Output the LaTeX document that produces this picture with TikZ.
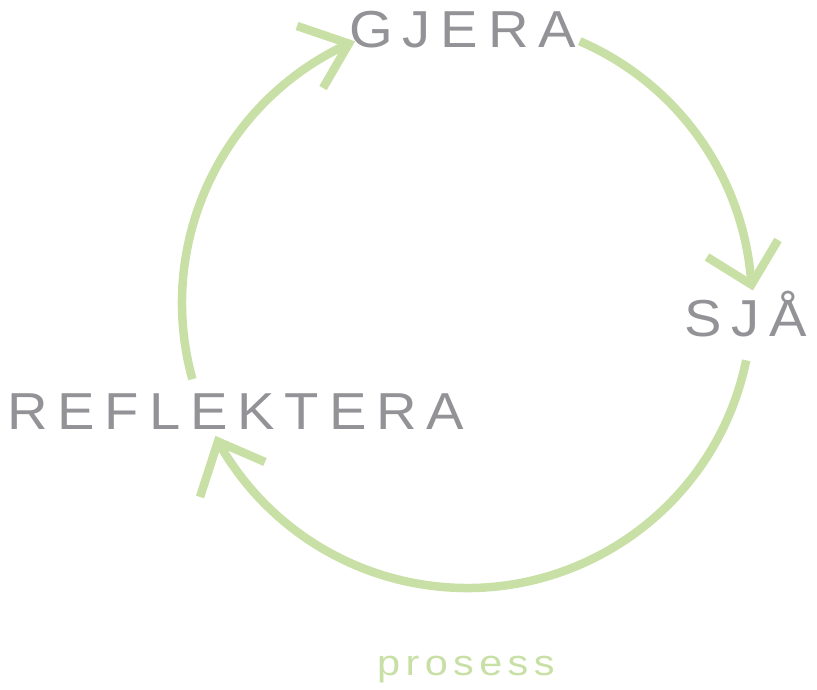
\documentclass[tikz,border=0pt]{standalone}
\usepackage{fontspec}
\usetikzlibrary{calc}
\setmainfont{Liberation Sans}
\newfontfamily\labfont[LetterSpace=19,FakeStretch=1.08]{Liberation Sans}
\newfontfamily\smallfont[LetterSpace=15,FakeStretch=1.15]{Liberation Sans}
\definecolor{lbl}{HTML}{939397}
\definecolor{leaf}{HTML}{C8E0A5}
\begin{document}
\begin{tikzpicture}[x=1pt,y=1pt,
  cyc/.style={draw=leaf,line width=8.5pt,line cap=butt},
  tipline/.style={draw=leaf,line width=8.5pt,line cap=butt,line join=miter},
  word/.style={anchor=base west,inner sep=0pt,text=lbl,font=\labfont\fontsize{52}{52}\selectfont},
  small/.style={anchor=base west,inner sep=0pt,text=leaf,font=\smallfont\fontsize{36}{36}\selectfont}]
\useasboundingbox (0,0) rectangle (817,690);
\coordinate (c) at (467,387);
% labels
\node[word] (gjera) at (349,642) {GJERA};
\node[word] (sja) at (684,353) {SJÅ};
\node[word] (refl) at (7,260) {REFLEKTERA};
\node[small] (pros) at (377,14) {prosess};
% arcs
\draw[cyc] ($(c)+(66.7:285)$) arc[start angle=66.7,end angle=3.7,radius=285] coordinate (t1);
\draw[cyc] ($(c)+(-11.6:285)$) arc[start angle=-11.6,end angle=-150.9,radius=285] coordinate (t2);
\draw[cyc] ($(c)+(195.5:285)$) arc[start angle=195.5,end angle=114.5,radius=285] coordinate (t3);
% arrow heads
\draw[tipline] (707,433) -- (t1) -- (778,450);
\draw[tipline] (200,193) -- (t2) -- (265,228);
\draw[tipline] (297,664) -- (t3) -- (323,602);
\end{tikzpicture}
\end{document}
